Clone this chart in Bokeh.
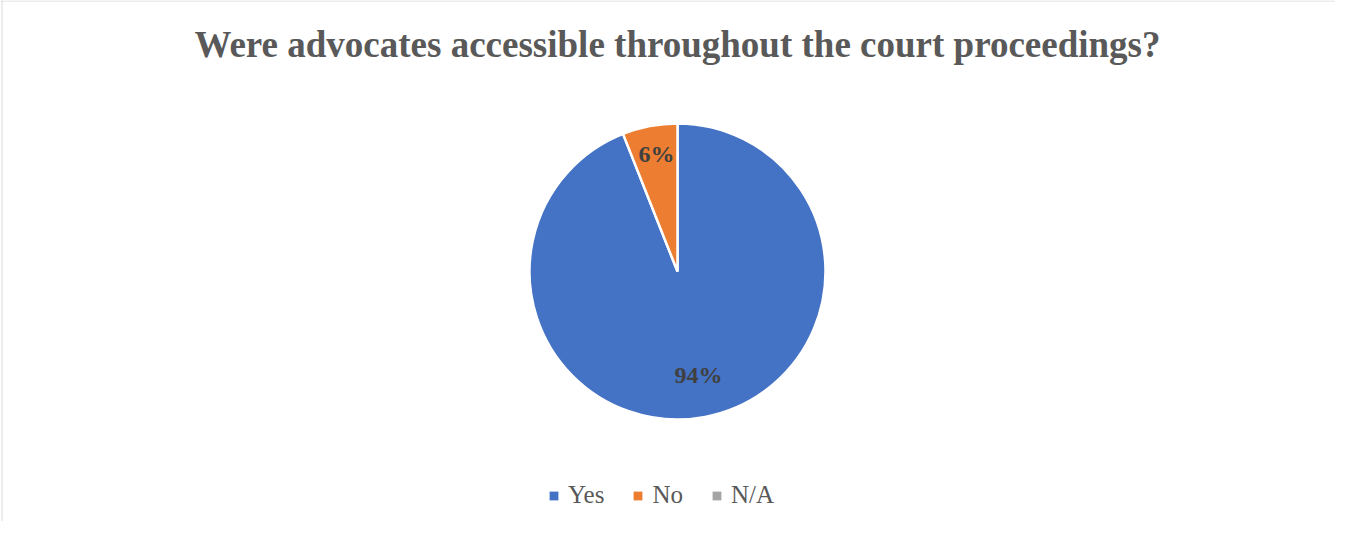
import numpy as np
from bokeh.plotting import figure
from bokeh.models import Range1d, ColumnDataSource, Legend, LegendItem, Span
from bokeh.core.properties import value
from bokeh.embed import file_html
from bokeh.resources import INLINE

# ---- data ----
title_text = "Were advocates accessible throughout the court proceedings?"
categories = ["Yes", "No", "N/A"]
percent = [94, 6, 0]
colors = ["#4472C4", "#ED7D31", "#A5A5A5"]

# ---- figure: data units == pixels, y measured upward from 537 ----
W, H = 1335, 521
p = figure(width=W, height=H, output_backend="svg", toolbar_location=None,
           x_range=Range1d(0, W), y_range=Range1d(537 - H, 537),
           min_border=0)
p.axis.visible = False
p.grid.visible = False
p.outline_line_color = None
p.background_fill_color = "white"
p.border_fill_color = "white"

# chart-area border (visible top and left edges)
p.add_layout(Span(location=536.5, dimension="width", line_color="#D9D9D9", line_width=1))
p.add_layout(Span(location=1.5, dimension="height", line_color="#D9D9D9", line_width=1))

cx, cy, r = 677, 537 - 271, 148
vals = np.array(percent, dtype=float)
total = vals.sum()
cum = np.cumsum(vals)
prev = cum - vals
start = np.pi / 2 - 2 * np.pi * prev / total
end = np.pi / 2 - 2 * np.pi * cum / total

nz = vals > 0
src = ColumnDataSource(dict(cat=[c for c, k in zip(categories, nz) if k],
                            start=start[nz], end=end[nz],
                            color=[c for c, k in zip(colors, nz) if k]))
p.wedge(x=cx, y=cy, radius=r, start_angle="start", end_angle="end",
        direction="clock", fill_color="color", line_color="white",
        line_width=2.5, source=src)

# title
p.text(x=[677], y=[537 - 44], text=[title_text], text_align="center",
       text_baseline="middle", text_font=value("Liberation Serif"),
       text_font_style="bold", text_font_size="37px", text_color="#595959")

# data labels at mid-angles
mid = (start + end) / 2
fr = 0.76
lx = cx + fr * r * np.cos(mid[nz])
ly = cy + fr * r * np.sin(mid[nz])
labels = ["%d%%" % v for v in vals[nz]]
p.text(x=lx, y=ly, text=labels, text_align="center", text_baseline="middle",
       y_offset=-7,
       text_font=value("Liberation Serif"), text_font_style="bold",
       text_font_size="24px", text_color="#404040")

# legend (square swatches) -- invisible zero-size proxy glyphs carry the colours
leg_src = ColumnDataSource(dict(x=[cx] * len(categories), y=[cy] * len(categories),
                                color=colors, cat=categories))
proxy = p.rect(x="x", y="y", width=0, height=0, fill_color="color",
               line_color=None, source=leg_src)
items = [LegendItem(label=c, renderers=[proxy], index=i) for i, c in enumerate(categories)]
legend = Legend(items=items, orientation="horizontal", location=(548, 12),
                glyph_width=11, glyph_height=11, label_standoff=9, spacing=28,
                padding=0, margin=0, border_line_color=None,
                background_fill_alpha=0,
                label_text_font="Liberation Serif", label_text_font_size="25px",
                label_text_color="#595959")
p.add_layout(legend, "center")

open("out.html", "w").write(file_html(p, INLINE))
